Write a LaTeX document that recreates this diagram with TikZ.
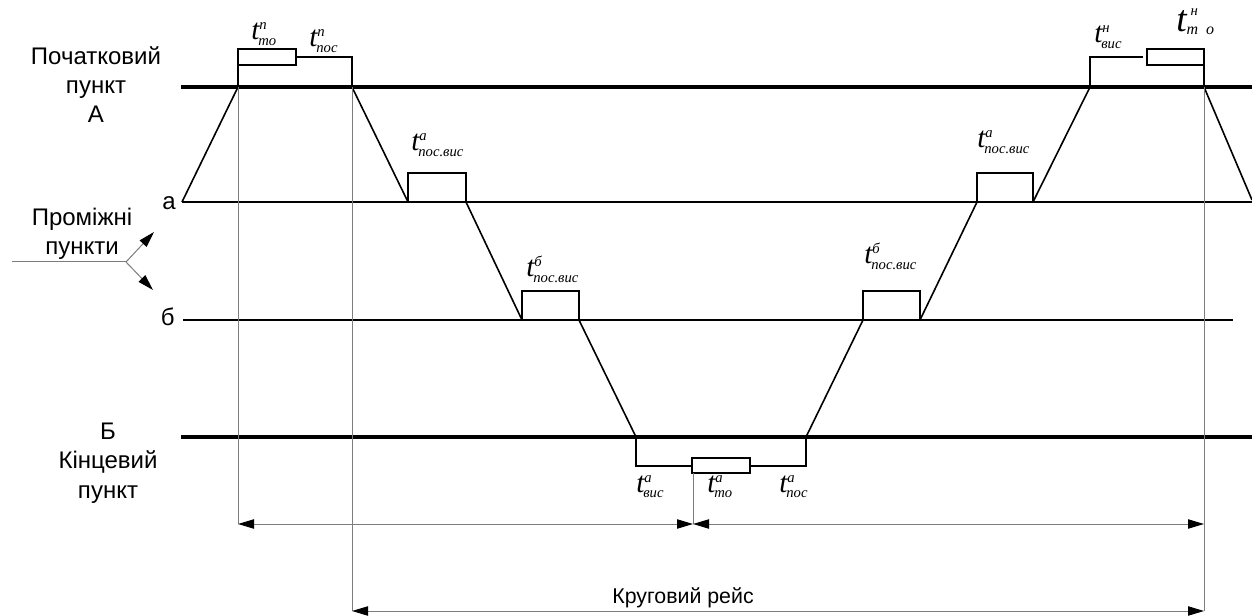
\documentclass[tikz,border=0pt]{standalone}
\usepackage{fontspec}
\setmainfont{Liberation Sans}
\newfontfamily\lser{Liberation Serif}
\usetikzlibrary{arrows.meta}
\definecolor{guidegray}{RGB}{125,125,125}
\newcommand\tfnt{\lser\itshape\fontsize{22}{22}\selectfont}
\newcommand\subfnt{\lser\itshape\fontsize{11}{11}\selectfont}
\newcommand\tlab[2]{{\tfnt t}\rlap{\raisebox{7.5pt}{\subfnt #1}}\kern-0.8pt\raisebox{-4pt}{\subfnt #2}}
\newcommand\tbiglab[2]{{\lser\itshape\fontsize{28}{28}\selectfont t}\kern3pt\rlap{\raisebox{12pt}{\subfnt #1}}\kern-3pt\raisebox{-2pt}{\lser\itshape\fontsize{12}{12}\selectfont #2}}
\begin{document}
\begin{tikzpicture}[x=0.75pt,y=-0.75pt,
  track/.style={line width=3pt},
  level/.style={line width=1pt},
  route/.style={line width=1.2pt, line join=miter},
  guide/.style={draw=guidegray, line width=0.75pt},
  dim/.style={guide, {Triangle[length=12pt,width=7pt,color=black]}-{Triangle[length=12pt,width=7pt,color=black]}},
  tipline/.style={guide, -{Triangle[length=12pt,width=7pt,color=black]}},
  lbl/.style={font=\fontsize{18}{22}\selectfont, inner sep=0pt, align=center},
  tl/.style={inner sep=0pt, anchor=base west}]
\useasboundingbox (0,0) rectangle (1252,616);
% level lines
\coordinate (A0) at (181,87);  \coordinate (A1) at (1252,87);
\coordinate (a0) at (182,202); \coordinate (a1) at (1252,202);
\coordinate (b0) at (183,320); \coordinate (b1) at (1233,320);
\coordinate (B0) at (181,437); \coordinate (B1) at (1252,437);
\draw[track] (A0) -- (A1);
\draw[level] (a0) -- (a1);
\draw[level] (b0) -- (b1);
\draw[track] (B0) -- (B1);
% route points
\coordinate (p0) at (182,202);
\coordinate (p1) at (238,87);
\coordinate (p2) at (352,87);
\coordinate (p3) at (408,202);
\coordinate (p4) at (466,202);
\coordinate (p5) at (522,320);
\coordinate (p6) at (579,320);
\coordinate (p7) at (636,437);
\coordinate (p8) at (806,437);
\coordinate (p9) at (863,320);
\coordinate (p10) at (920,320);
\coordinate (p11) at (977,202);
\coordinate (p12) at (1033,202);
\coordinate (p13) at (1090,87);
\coordinate (p14) at (1204,87);
\coordinate (p15) at (1252,200);
\draw[route] (p0) -- (p1);
\draw[route] (p2) -- (p3);
\draw[route] (p4) -- (p5);
\draw[route] (p6) -- (p7);
\draw[route] (p8) -- (p9);
\draw[route] (p10) -- (p11);
\draw[route] (p12) -- (p13);
\draw[route] (p14) -- (p15);
% stops
\draw[route] (p1) -- (238,49) -- (296,49) -- (296,65) -- (238,65);
\draw[route] (296,57) -- (352,57) -- (p2);
\draw[route] (p3) -- (408,173) -- (466,173) -- (p4);
\draw[route] (p5) -- (522,291) -- (579,291) -- (p6);
\draw[route] (p7) -- (636,466) -- (692,466);
\draw[route] (692,458) rectangle (750,473);
\draw[route] (750,466) -- (806,466) -- (p8);
\draw[route] (p9) -- (863,291) -- (920,291) -- (p10);
\draw[route] (p11) -- (977,173) -- (1033,173) -- (p12);
\draw[route] (p13) -- (1090,57) -- (1143,57);
\draw[route] (1147,49) rectangle (1204,65);
\draw[route] (1204,65) -- (p14);
% guides and dimension arrows
\coordinate (r1L) at (238,524);
\coordinate (r1M) at (693,524);
\coordinate (r1R) at (1204,524);
\coordinate (r2L) at (352,611);
\coordinate (r2R) at (1204,611);
\coordinate (bx) at (693,473);
\draw[guide] (p1) -- (r1L);
\draw[guide] (p2) -- (r2L);
\draw[guide] (bx) -- (r1M);
\draw[guide] (p14) -- (r2R);
\draw[dim] (r1L) -- (r1M);
\draw[dim] (r1M) -- (r1R);
\draw[dim] (r2L) -- (r2R);
% intermediate points pointer
\coordinate (m0) at (12,262);
\coordinate (m1) at (126,262);
\coordinate (mu) at (154,232);
\coordinate (md) at (153,290);
\draw[guide] (m0) -- (m1);
\draw[tipline] (m1) -- (mu);
\draw[tipline] (m1) -- (md);
% text labels
\node[lbl, anchor=base] (lA) at (96,123) {Початковий\\пункт\\А};
\node[lbl, anchor=base east] (la) at (176,210) {а};
\node[lbl, anchor=base] (lmid) at (82,255) {Проміжні\\пункти};
\node[lbl, anchor=base east] (lb) at (175,326) {б};
\node[lbl, anchor=base] (lB) at (108,498) {Б\\Кінцевий\\пункт};
\node[lbl, anchor=base, font=\fontsize{16}{20}\selectfont] (lcyc) at (683,603) {Круговий рейс};
% time labels
\node[tl] (t1) at (251,40) {\tlab{п}{то}};
\node[tl] (t2) at (309,47) {\tlab{п}{пос}};
\node[tl] (t3) at (411,151) {\tlab{а}{пос.вис}};
\node[tl] (t4) at (526,277) {\tlab{б}{пос.вис}};
\node[tl] (t5) at (864,264) {\tlab{б}{пос.вис}};
\node[tl] (t6) at (977,148) {\tlab{а}{пос.вис}};
\node[tl] (t7) at (1094,43) {\tlab{н}{вис}};
\node[tl] (t8) at (1176,32) {\tbiglab{н}{т\kern6pt о}};
\node[tl] (t9) at (636,492) {\tlab{а}{вис}};
\node[tl] (t10) at (707,492) {\tlab{а}{то}};
\node[tl] (t11) at (779,492) {\tlab{а}{пос}};
\end{tikzpicture}
\end{document}
